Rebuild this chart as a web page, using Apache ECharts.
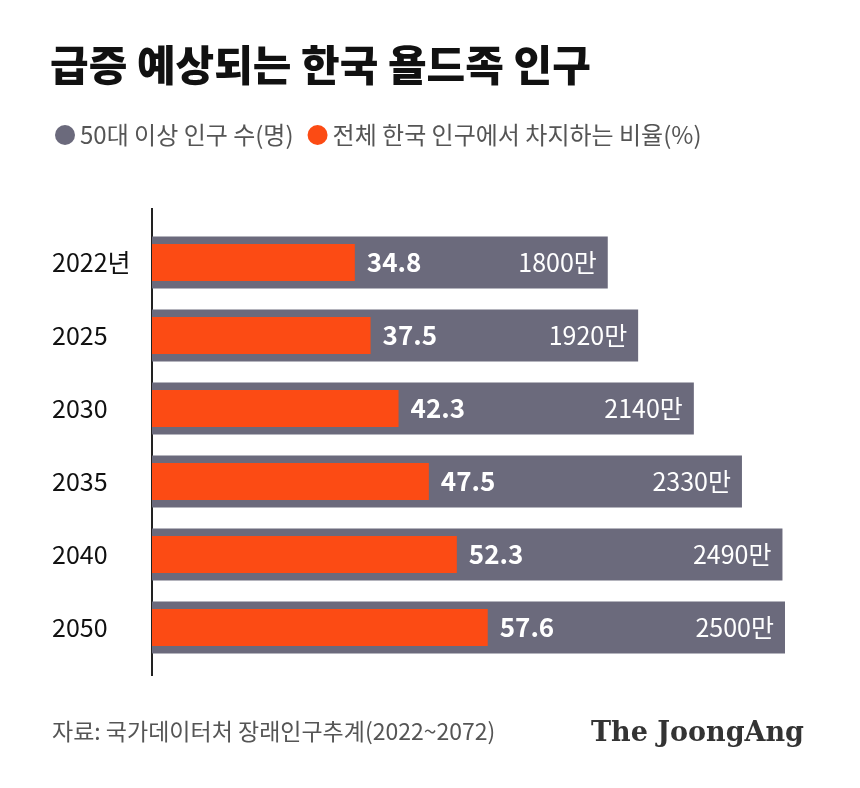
<!DOCTYPE html>
<html><head><meta charset="utf-8">
<script src="https://cdn.jsdelivr.net/npm/echarts@6/dist/echarts.min.js"></script>
<style>html,body{margin:0;padding:0;background:#fff}#c{width:860px;height:788px}</style>
</head><body><div id="c"></div>
<script>
const categories = ['2022년','2025','2030','2035','2040','2050'];
const population = [1800,1920,2140,2330,2490,2500];
const share = [34.8,37.5,42.3,47.5,52.3,57.6];
const F = '"Noto Sans CJK KR", "Noto Sans", sans-serif';
const chart = echarts.init(document.getElementById('c'));
chart.setOption({
  backgroundColor:'#fff',
  animation:false,
  legend:{left:50,top:118,itemWidth:20,itemHeight:20,itemGap:14,icon:'circle',
    textStyle:{fontFamily:F,fontSize:24,color:'#555'},
    data:['50대 이상 인구 수(명)','전체 한국 인구에서 차지하는 비율(%)']},
  graphic:[
    {type:'text',left:50,top:44,style:{text:'급증 예상되는 한국 욜드족 인구',font:'900 42px '+F,fill:'#111'}},
    {type:'line',shape:{x1:152,y1:208,x2:152,y2:676},style:{stroke:'#222',lineWidth:2}},
    {type:'text',left:52,top:720,style:{text:'자료: 국가데이터처 장래인구추계(2022~2072)',font:'23px '+F,fill:'#555'}},
    {type:'text',right:56,top:720,style:{text:'The JoongAng',font:'bold 27px "DejaVu Serif", serif',fill:'#333'}}
  ],
  grid:{left:152,right:75,top:226,bottom:124},
  xAxis:[{type:'value',min:0,max:2500,show:false},{type:'value',min:0,max:108.6,show:false}],
  yAxis:[
    {type:'category',data:categories,inverse:true,axisLine:{show:false},axisTick:{show:false},
     axisLabel:{align:'left',margin:100,fontFamily:F,fontSize:25,color:'#111'}},
    {type:'category',data:categories,inverse:true,show:false}
  ],
  series:[
    {name:'50대 이상 인구 수(명)',type:'bar',xAxisIndex:0,yAxisIndex:0,data:population,barWidth:52,
     itemStyle:{color:'#6b6a7c'},
     label:{show:true,position:'insideRight',distance:11,formatter:p=>p.value+'만',fontFamily:F,fontSize:25,color:'#fff'}},
    {name:'전체 한국 인구에서 차지하는 비율(%)',type:'bar',xAxisIndex:1,yAxisIndex:1,data:share,barWidth:37,
     itemStyle:{color:'#fc4b14'},
     label:{show:true,position:'right',distance:12,formatter:p=>p.value.toFixed(1),fontFamily:F,fontSize:26,fontWeight:'bold',color:'#fff'}}
  ]
});
</script></body></html>
